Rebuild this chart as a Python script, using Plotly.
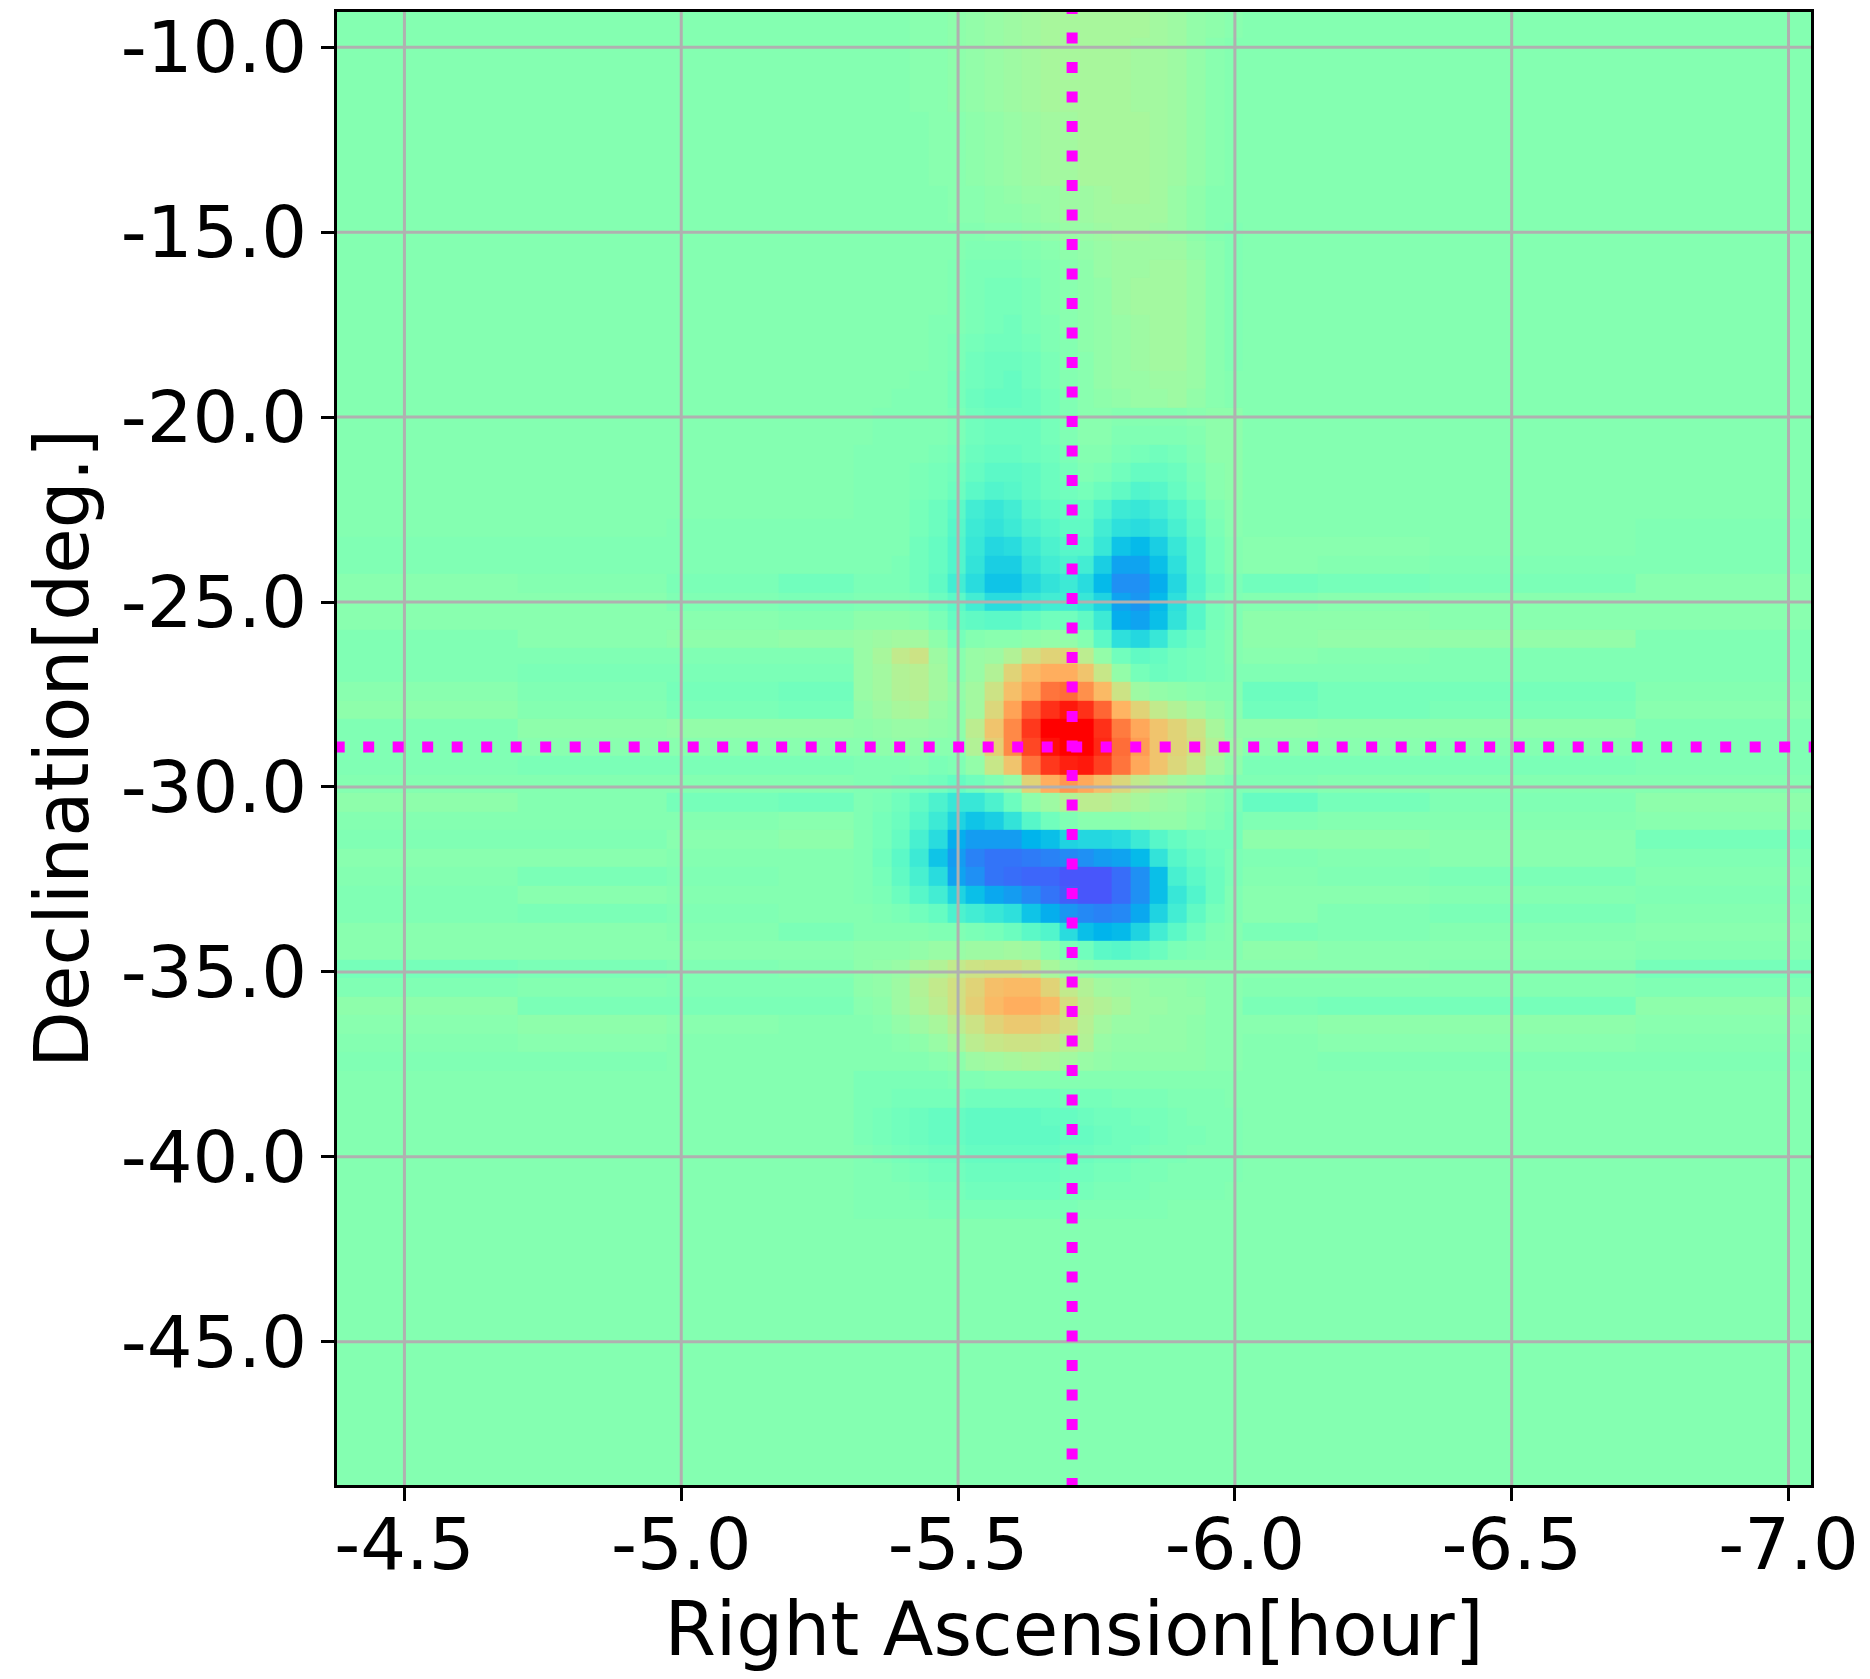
import math
import plotly.graph_objects as go

# ---- axes and annotation values -------------------------------------------
ra_ticks = [-4.5, -5.0, -5.5, -6.0, -6.5, -7.0]
ra_labels = ["-4.5", "-5.0", "-5.5", "-6.0", "-6.5", "-7.0"]
dec_ticks = [-10, -15, -20, -25, -30, -35, -40, -45]
dec_labels = ["-10.0", "-15.0", "-20.0", "-25.0", "-30.0", "-35.0", "-40.0", "-45.0"]
ra_range = [-4.3782, -7.0406]
dec_range = [-48.872, -9.047]
source_ra = -5.706
source_dec = -28.92

# cell boundaries of the map
ra_edge_left, ra_edge_right, ra_step = -5.7166, -5.7443, 0.03375
dec_edge_top, dec_edge_bottom, dec_step = -26.244, -26.668, 0.5
n_ra_left, n_ra_right = 40, 39
n_dec_top, n_dec_bottom = 35, 45

BACKGROUND = 51   # map level, as a percentage of the colour scale

# ---- the map, row by row (top to bottom), 21 central columns ---------------
core_rows = [
 [51,51,51,52,52,53,54,55,56,57,58,58,58,58,58,58,57,56,54,53,52],
 [51,51,51,52,52,53,54,55,56,57,58,58,58,58,58,58,57,56,54,53,52],
 [51,51,51,52,52,53,54,55,56,57,58,58,58,58,58,57,57,56,54,52,51],
 [51,51,51,52,52,53,54,55,56,57,58,58,58,58,58,57,57,56,54,52,51],
 [51,51,51,52,52,53,54,55,56,57,58,58,58,58,58,57,57,56,54,52,51],
 [51,51,51,52,52,53,54,55,56,57,58,58,58,58,58,57,57,56,54,52,51],
 [51,51,51,51,52,52,53,54,55,56,57,57,58,58,58,58,57,56,54,52,51],
 [51,51,51,51,52,52,53,54,55,56,57,57,58,58,58,58,57,56,54,52,51],
 [51,51,51,51,52,52,53,54,55,56,57,57,58,58,58,58,57,56,54,52,51],
 [51,51,51,51,52,52,53,54,55,56,57,57,58,58,58,58,57,56,54,52,51],
 [51,51,51,51,51,52,52,53,54,55,55,56,56,57,58,58,57,55,53,51,51],
 [51,51,51,51,51,52,52,53,53,54,55,56,56,57,57,57,57,55,53,51,51],
 [51,51,51,51,51,51,51,52,52,53,54,55,55,56,57,57,56,55,53,51,50],
 [51,51,51,51,51,51,50,50,50,51,52,53,54,55,56,56,56,56,54,52,50],
 [51,51,51,51,51,50,49,49,49,50,51,52,53,55,56,56,57,57,55,52,50],
 [51,51,51,51,51,50,49,48,48,49,51,52,53,54,56,57,57,57,55,52,50],
 [51,51,51,51,51,50,49,48,48,49,51,52,53,54,56,57,57,57,55,52,50],
 [51,51,51,51,50,50,49,48,47,49,50,52,53,54,55,56,57,57,55,52,50],
 [51,51,51,51,50,49,48,47,47,48,50,51,53,54,55,56,57,57,55,52,50],
 [51,51,51,51,50,49,47,46,46,47,49,51,52,54,55,56,57,57,55,52,50],
 [51,51,51,50,50,48,47,46,45,47,49,51,52,54,55,55,56,56,55,52,51],
 [51,51,50,50,50,48,46,45,45,46,48,50,52,53,54,55,55,56,54,52,51],
 [51,50,50,50,50,49,47,46,46,46,48,50,52,52,51,51,51,51,52,53,53],
 [51,50,50,50,50,49,47,46,46,46,48,50,52,52,50,50,50,50,51,53,53],
 [50,50,50,50,49,48,46,45,45,46,47,49,51,51,49,48,47,48,50,53,53],
 [50,50,50,49,48,47,45,43,43,44,46,48,50,49,47,45,45,46,49,52,53],
 [50,50,50,49,48,46,43,41,42,44,46,47,48,46,44,41,42,45,48,52,53],
 [50,50,50,48,46,43,38,36,38,42,44,45,45,41,37,36,38,41,45,50,52],
 [50,50,50,48,46,42,37,35,37,40,42,44,44,38,34,33,35,39,44,49,52],
 [50,50,50,47,45,41,36,32,33,37,40,42,42,36,28,26,30,36,42,48,51],
 [50,50,49,47,45,41,35,30,30,35,38,40,38,30,22,22,27,34,42,48,51],
 [49,49,49,47,44,38,33,28,28,32,35,37,33,26,19,19,24,32,41,46,49],
 [50,50,50,49,46,43,38,33,33,36,38,38,36,31,22,20,26,34,42,48,50],
 [53,53,53,52,49,45,44,43,43,45,47,47,44,37,24,22,27,35,42,48,50],
 [55,56,57,57,53,48,51,52,52,53,54,54,51,43,34,32,36,43,46,49,51],
 [55,58,63,65,56,52,55,56,60,66,69,69,62,54,47,44,45,47,48,49,51],
 [55,57,60,61,57,52,55,60,69,74,76,76,72,64,54,48,46,47,48,49,50],
 [55,57,60,61,57,54,57,65,73,78,85,86,81,74,65,56,54,53,52,51,51],
 [54,56,58,59,55,53,57,68,78,88,94,97,94,87,75,69,63,60,57,54,52],
 [53,54,55,55,54,53,62,72,82,93,100,100,100,94,84,77,72,69,65,58,54],
 [52,53,54,53,52,52,60,70,82,91,98,100,100,95,86,79,72,69,66,60,55],
 [50,50,50,51,49,50,54,64,72,85,93,96,97,92,85,77,72,68,64,57,53],
 [50,50,49,48,47,45,47,50,54,69,76,80,77,73,68,63,60,57,55,52,50],
 [50,49,47,44,40,36,36,40,46,53,56,60,62,62,60,58,56,55,53,51,49],
 [50,48,46,42,37,31,28,30,35,42,47,50,52,52,52,53,54,54,52,50,48],
 [50,48,45,39,33,24,21,21,21,25,27,31,32,32,33,37,42,45,47,48,48],
 [50,47,43,37,28,21,17,15,15,16,17,18,19,21,22,26,35,42,45,47,49],
 [50,48,44,39,33,22,19,15,14,13,13,11,11,11,14,19,27,39,43,46,49],
 [50,49,46,42,38,31,27,23,21,18,15,12,11,11,14,19,27,36,41,46,50],
 [51,50,49,47,45,40,38,36,34,28,24,20,18,17,18,23,31,38,44,48,50],
 [51,51,51,51,50,50,49,48,46,43,41,33,27,25,26,31,38,43,47,50,51],
 [53,53,53,54,55,55,56,56,57,56,52,49,47,43,42,44,46,49,50,51,51],
 [53,54,55,58,60,63,65,66,66,64,58,55,53,52,52,52,52,52,52,52,52],
 [53,54,56,60,63,66,69,73,74,74,69,63,60,57,56,55,54,54,53,52,52],
 [52,53,56,59,62,66,70,74,76,76,74,67,62,60,58,55,55,54,54,52,52],
 [51,52,54,56,58,62,65,69,71,71,69,66,61,57,55,55,54,54,53,52,52],
 [51,51,52,53,55,58,62,64,65,65,64,62,60,55,54,54,54,54,53,52,52],
 [51,51,51,51,52,53,56,57,58,59,58,57,55,54,53,53,53,53,53,52,52],
 [49,49,49,49,49,50,50,51,51,51,51,51,51,51,51,51,51,51,51,51,51],
 [49,49,48,48,48,48,47,47,47,47,47,48,48,48,49,49,49,50,50,50,51],
 [49,48,47,46,45,45,44,44,44,44,45,45,46,47,47,48,48,49,50,50,50],
 [49,48,47,46,45,45,44,44,44,44,44,45,45,46,47,47,48,49,49,50,50],
 [50,49,48,47,46,46,45,45,45,45,45,46,46,47,47,48,49,49,50,50,50],
 [50,50,49,48,47,47,46,46,46,46,46,47,47,48,48,49,49,50,50,50,50],
 [50,50,50,49,48,48,47,47,47,47,47,48,48,49,49,49,50,50,50,50,51],
 [50,50,50,50,49,49,49,49,49,49,49,49,50,50,50,50,50,51,51,51,51],
]

# faint streaks left and right of the centre: four bands on each side,
# listed from row 28 of the map downwards
side_bands_first_row = 28
side_bands = [
 [51,51,50,50, 51,51,51,50],[50,50,50,50, 52,52,51,50],[50,50,50,50, 52,51,50,50],
 [52,51,49,47, 47,48,49,52],[52,52,50,49, 51,52,52,52],[52,52,52,51, 53,53,52,52],
 [50,52,53,54, 53,54,54,50],[50,50,50,50, 52,51,50,50],[50,49,49,49, 50,50,50,50],
 [52,50,48,47, 46,48,48,51],[53,51,49,48, 47,48,49,52],[50,53,54,54, 54,53,53,50],
 [50,52,52,52, 52,52,51,50],[50,49,49,49, 49,49,49,50],[51,51,51,51, 50,51,51,51],
 [53,51,48,47, 45,48,50,53],[51,51,51,52, 50,51,51,52],[50,50,52,53, 53,53,52,48],
 [52,52,51,51, 50,51,52,50],[51,49,50,51, 51,50,49,51],[50,52,51,51, 52,52,51,50],
 [50,49,50,51, 52,50,49,51],[52,52,51,49, 49,50,51,52],[52,52,52,52, 53,52,52,51],
 [48,49,50,51, 52,52,51,48],[50,51,50,50, 51,51,51,50],[53,49,49,49, 49,48,48,53],
 [52,53,52,51, 52,53,53,52],[51,52,51,51, 51,52,52,51],[50,50,51,51, 51,50,50,50],
]

# ---- assemble the grid ----------------------------------------------------
band_spans = [(0, 10), (10, 18), (18, 24), (24, 28), (49, 53), (53, 59), (59, 70), (70, 80)]
core_first_col = 28
n_cols = n_ra_left + 1 + n_ra_right
n_rows = n_dec_top + 1 + n_dec_bottom
z = [[BACKGROUND] * n_cols for _ in range(n_rows)]
for j, row in enumerate(core_rows):
    z[j][core_first_col:core_first_col + len(row)] = row
for k, bands in enumerate(side_bands):
    for (a, b), v in zip(band_spans, bands):
        z[side_bands_first_row + k][a:b] = [v] * (b - a)

ra_edges = [ra_edge_left + ra_step * k for k in range(n_ra_left, -1, -1)] + \
           [ra_edge_right - ra_step * k for k in range(n_ra_right + 1)]
dec_edges = [dec_edge_top + dec_step * k for k in range(n_dec_top, -1, -1)] + \
            [dec_edge_bottom - dec_step * k for k in range(n_dec_bottom + 1)]


def rainbow(t):
    r = min(1.0, abs(2 * t - 0.5))
    g = math.sin(math.pi * t)
    b = math.cos(math.pi * t / 2)
    return f"rgb({round(255 * r)},{round(255 * g)},{round(255 * b)})"


colorscale = [[i / 64, rainbow(i / 64)] for i in range(65)]

GRID = "#b0b0b0"
MAGENTA = "#ff00ff"
FONT = "DejaVu Sans"

fig = go.Figure()
fig.add_trace(go.Heatmap(x=ra_edges, y=dec_edges, z=z, zmin=0, zmax=100,
                         colorscale=colorscale, showscale=False, hoverinfo="skip"))

grid_x, grid_y = [], []
for t in ra_ticks:
    grid_x += [t, t, None]
    grid_y += [dec_range[0], dec_range[1], None]
fig.add_trace(go.Scatter(x=grid_x, y=grid_y, mode="lines", hoverinfo="skip", showlegend=False,
                         line=dict(color=GRID, width=3)))
grid_x, grid_y = [], []
for t in dec_ticks:
    grid_x += [ra_range[0], ra_range[1], None]
    grid_y += [t, t, None]
fig.add_trace(go.Scatter(x=grid_x, y=grid_y, mode="lines", hoverinfo="skip", showlegend=False,
                         line=dict(color=GRID, width=3)))

fig.add_trace(go.Scatter(x=[ra_range[0] + 0.006, ra_range[1]], y=[source_dec, source_dec],
                         mode="lines", hoverinfo="skip", showlegend=False,
                         line=dict(color=MAGENTA, width=11, dash="11px,18.5px")))
fig.add_trace(go.Scatter(x=[source_ra, source_ra], y=[dec_range[1] + 0.24, dec_range[0]],
                         mode="lines", hoverinfo="skip", showlegend=False,
                         line=dict(color=MAGENTA, width=11, dash="11px,18.5px")))

axis_style = dict(
    showgrid=False, zeroline=False, showline=True, mirror=True,
    linecolor="black", linewidth=3,
    ticks="outside", ticklen=12.6, tickwidth=2.5, tickcolor="black",
    tickfont=dict(family=FONT, size=72, color="black"),
    tickmode="array",
)
fig.update_xaxes(range=ra_range, tickvals=ra_ticks, ticktext=ra_labels, ticklabelstandoff=-18,
                 title=dict(text="Right Ascension[hour]", standoff=2,
                            font=dict(family=FONT, size=74, color="black")),
                 **axis_style)
fig.update_yaxes(range=dec_range, tickvals=dec_ticks, ticktext=dec_labels,
                 title=dict(text="Declination[deg.]", standoff=8,
                            font=dict(family=FONT, size=74, color="black")),
                 **axis_style)
fig.update_layout(width=1870, height=1679, autosize=False,
                  margin=dict(l=336.5, r=58.5, t=12, b=193.5, autoexpand=False),
                  paper_bgcolor="white", plot_bgcolor="#85ffb2", showlegend=False)

fig.write_html("out.html", config={"displayModeBar": False},
               post_script="document.body.style.margin='0';")
